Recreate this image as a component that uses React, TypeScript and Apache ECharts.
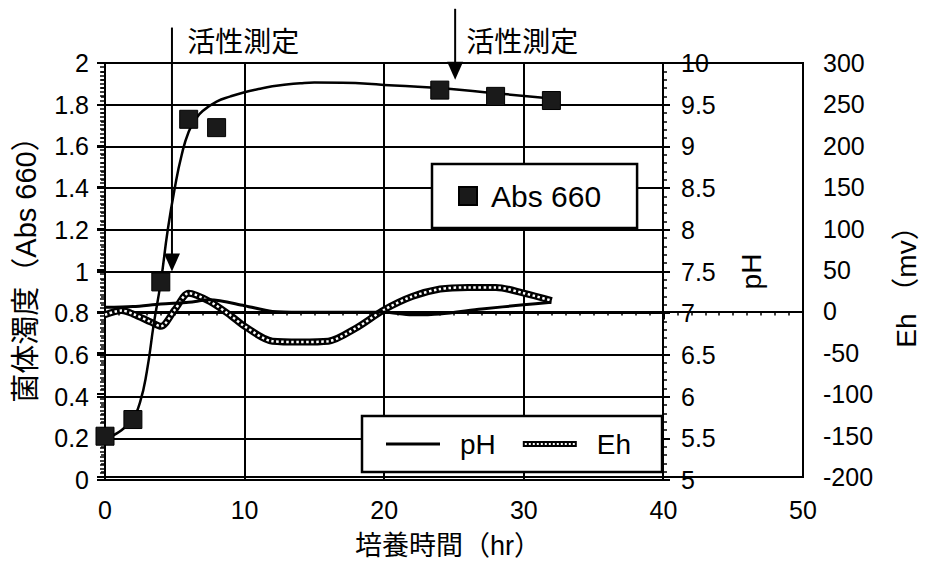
import React, { useEffect, useRef } from 'react';
import * as echarts from 'echarts';

// Abs 660 measured points
const absTimes = [0, 2, 4, 6, 8, 24, 28, 32];
const absValues = [0.21, 0.29, 0.95, 1.73, 1.69, 1.87, 1.84, 1.82];

// Abs 660 fitted growth curve
const fitTimes = [0, 1, 2, 2.5, 3, 3.5, 4, 4.5, 5, 5.5, 6, 6.5, 7, 8, 9, 10, 11, 12, 13, 14, 15, 17, 20, 24, 28, 32];
const fitValues = [0.2, 0.23, 0.3, 0.37, 0.52, 0.75, 0.95, 1.2, 1.4, 1.56, 1.67, 1.73, 1.77, 1.815, 1.84, 1.86, 1.875, 1.888, 1.897, 1.903, 1.906, 1.905, 1.895, 1.88, 1.855, 1.83];

// pH
const phTimes = [0, 2, 4, 6, 7.5, 10, 12, 14, 20, 22, 24, 27, 30, 32];
const phValues = [7.07, 7.08, 7.11, 7.13, 7.16, 7.09, 7.02, 7.01, 7.01, 6.98, 6.99, 7.05, 7.1, 7.13];

// Eh (mv)
const ehTimes = [0, 1.2, 2, 3.3, 4, 5, 6, 7.5, 9, 10, 12, 14, 16, 18, 20, 22, 24, 26, 28, 30, 32];
const ehValues = [-4, 1, -3, -13, -18, 2, 22, 12, -5, -18, -36, -37, -36, -20, 2, 18, 27, 29, 29, 22, 13];

// 活性測定 annotations (time in hr, levels on the Abs axis)
const markTimes = [4.8, 25.1];
const markTipValues = [1.0, 1.92];
const markTopValues = [2.17, 2.26];
const markLabelTimes = [5.9, 25.9];
const markLabelValue = 2.1;
const markLabels = ['活性測定', '活性測定'];

const FONT = "'Liberation Sans', Arial, 'Noto Sans CJK JP', sans-serif";
const BLACK = '#000';

const ehIcon = (() => {
  let d = 'path://M0,0H54V6H0Z';
  for (let x = 2; x < 52; x += 4) d += ` M${x},2V4H${x + 2}V2Z`;
  return d;
})();
const phIcon = 'path://M0,0H54V3H0Z';

const pairs = (xs: number[], ys: number[]) => xs.map((x, i) => [x, ys[i]]);

export default function App() {
  const ref = useRef<HTMLDivElement>(null);
  useEffect(() => {
    if (!ref.current) return;
    const chart = echarts.init(ref.current, null, { renderer: 'svg' });
    const axisLine = { show: true, lineStyle: { color: BLACK, width: 2 } };
    const label = (margin: number) => ({ color: BLACK, fontSize: 25, fontFamily: FONT, margin });
    const option: any = {
      animation: false,
      backgroundColor: '#fff',
      color: [BLACK],
      grid: [
        { left: 105, top: 63, width: 558, height: 417, show: false },
        { left: 105, top: 63, width: 698, height: 417, show: true, borderColor: BLACK, borderWidth: 2, backgroundColor: 'transparent' },
      ],
      xAxis: [
        {
          gridIndex: 0, type: 'value', min: 0, max: 40, interval: 10,
          axisLine: { show: false }, axisTick: { show: false }, axisLabel: { show: false },
          splitLine: { show: true, lineStyle: { color: BLACK, width: 2 } },
        },
        {
          gridIndex: 1, type: 'value', min: 0, max: 50, interval: 10,
          name: '培養時間（hr）', nameLocation: 'middle', nameGap: 55,
          nameTextStyle: { color: BLACK, fontSize: 27, fontFamily: FONT, padding: [0, 12, 0, 0] },
          axisLine, axisTick: { show: true, length: 8, lineStyle: { color: BLACK, width: 2 } },
          minorTick: { show: true, splitNumber: 10, length: 4, lineStyle: { color: BLACK, width: 1.5 } },
          axisLabel: label(20), splitLine: { show: false },
        },
      ],
      yAxis: [
        {
          gridIndex: 0, type: 'value', position: 'left', min: 0, max: 2, interval: 0.2,
          name: '菌体濁度（Abs 660）', nameLocation: 'middle', nameGap: 65,
          nameTextStyle: { color: BLACK, fontSize: 29, fontFamily: FONT, padding: [0, 0, 0, 18] },
          axisLine, axisTick: { show: true, length: 8, lineStyle: { color: BLACK, width: 2 } },
          minorTick: { show: true, splitNumber: 5, length: 4, lineStyle: { color: BLACK, width: 1.5 } },
          axisLabel: label(16),
          splitLine: { show: true, lineStyle: { color: BLACK, width: 2 } },
        },
        {
          gridIndex: 0, type: 'value', position: 'right', min: 5, max: 10, interval: 0.5,
          name: 'pH', nameLocation: 'middle', nameGap: 74,
          nameTextStyle: { color: BLACK, fontSize: 28, fontFamily: FONT },
          axisLine, axisTick: { show: true, length: 7, lineStyle: { color: BLACK, width: 2 } },
          minorTick: { show: true, splitNumber: 5, length: 4, lineStyle: { color: BLACK, width: 1.5 } },
          axisLabel: label(18), splitLine: { show: false },
        },
        {
          gridIndex: 1, type: 'value', position: 'right', min: -200, max: 300, interval: 50,
          name: 'Eh （mv）', nameLocation: 'middle', nameGap: 89,
          nameTextStyle: { color: BLACK, fontSize: 28, fontFamily: FONT, padding: [0, 20, 0, 0] },
          axisLine, axisTick: { show: true, inside: true, length: 8, lineStyle: { color: BLACK, width: 2 } },
          minorTick: { show: true, splitNumber: 10, length: 5, lineStyle: { color: BLACK, width: 1.5 } },
          axisLabel: label(20), splitLine: { show: false },
        },
      ],
      legend: [
        {
          data: [{ name: 'Abs 660', icon: 'rect' }],
          left: 432, top: 164, padding: [17, 36, 17, 26],
          itemWidth: 18, itemHeight: 18,
          borderColor: BLACK, borderWidth: 2.5, backgroundColor: '#fff',
          textStyle: { color: BLACK, fontSize: 30, fontFamily: FONT, padding: [0, 0, 0, 9] },
          selectedMode: false, z: 10,
        },
        {
          data: [{ name: 'pH', icon: phIcon }, { name: 'Eh', icon: ehIcon }],
          left: 362, top: 416, padding: [14, 31, 14, 24],
          itemWidth: 54, itemHeight: 6, itemGap: 27,
          borderColor: BLACK, borderWidth: 2.5, backgroundColor: '#fff',
          textStyle: { color: BLACK, fontSize: 28, fontFamily: FONT, padding: [0, 0, 0, 15] },
          selectedMode: false, z: 10,
        },
      ],
      series: [
        {
          type: 'line', name: 'Eh', xAxisIndex: 1, yAxisIndex: 2,
          data: pairs(ehTimes, ehValues), smooth: 0.3, symbol: 'none',
          lineStyle: { color: BLACK, width: 7 }, itemStyle: { color: BLACK }, z: 3,
        },
        {
          type: 'line', name: 'Eh pattern', xAxisIndex: 1, yAxisIndex: 2,
          data: pairs(ehTimes, ehValues), smooth: 0.3, symbol: 'none', silent: true,
          lineStyle: { color: '#fff', width: 2.5, type: [2.5, 2.5] }, itemStyle: { color: '#fff' }, z: 4,
        },
        {
          type: 'line', name: 'pH', xAxisIndex: 0, yAxisIndex: 1,
          data: pairs(phTimes, phValues), smooth: 0.3, symbol: 'none',
          lineStyle: { color: BLACK, width: 3 }, itemStyle: { color: BLACK }, z: 5,
        },
        {
          type: 'line', name: 'Abs 660 curve', xAxisIndex: 0, yAxisIndex: 0,
          data: pairs(fitTimes, fitValues), smooth: 0.5, symbol: 'none', silent: true,
          lineStyle: { color: BLACK, width: 2.5 }, itemStyle: { color: BLACK }, z: 5,
        },
        {
          type: 'scatter', name: 'Abs 660', xAxisIndex: 0, yAxisIndex: 0,
          data: pairs(absTimes, absValues), symbol: 'rect', symbolSize: 18,
          itemStyle: { color: '#1a1a1a', borderColor: BLACK, borderWidth: 1, opacity: 1 }, z: 6,
        },
      ],
    };
    chart.setOption(option);

    const px = (x: number, y: number) => chart.convertToPixel({ xAxisIndex: 0, yAxisIndex: 0 }, [x, y]) as number[];
    const graphic: any[] = [];
    markTimes.forEach((t, i) => {
      const top = px(t, markTopValues[i]);
      const tip = px(t, markTipValues[i]);
      graphic.push({
        type: 'line', z: 20,
        shape: { x1: top[0], y1: top[1], x2: tip[0], y2: tip[1] - 14 },
        style: { stroke: BLACK, lineWidth: 2 },
      });
      graphic.push({
        type: 'polygon', z: 20,
        shape: { points: [[tip[0] - 8, tip[1] - 18], [tip[0] + 8, tip[1] - 18], [tip[0], tip[1]]] },
        style: { fill: BLACK },
      });
      const lp = px(markLabelTimes[i], markLabelValue);
      graphic.push({
        type: 'text', z: 20, x: lp[0], y: lp[1],
        style: { text: markLabels[i], fill: BLACK, fontSize: 28, fontFamily: FONT, verticalAlign: 'middle', align: 'left' },
      });
    });
    chart.setOption({ graphic });

    return () => chart.dispose();
  }, []);
  return <div ref={ref} style={{ position: 'fixed', left: 0, top: 0, width: 936, height: 564, background: '#fff' }} />;
}
